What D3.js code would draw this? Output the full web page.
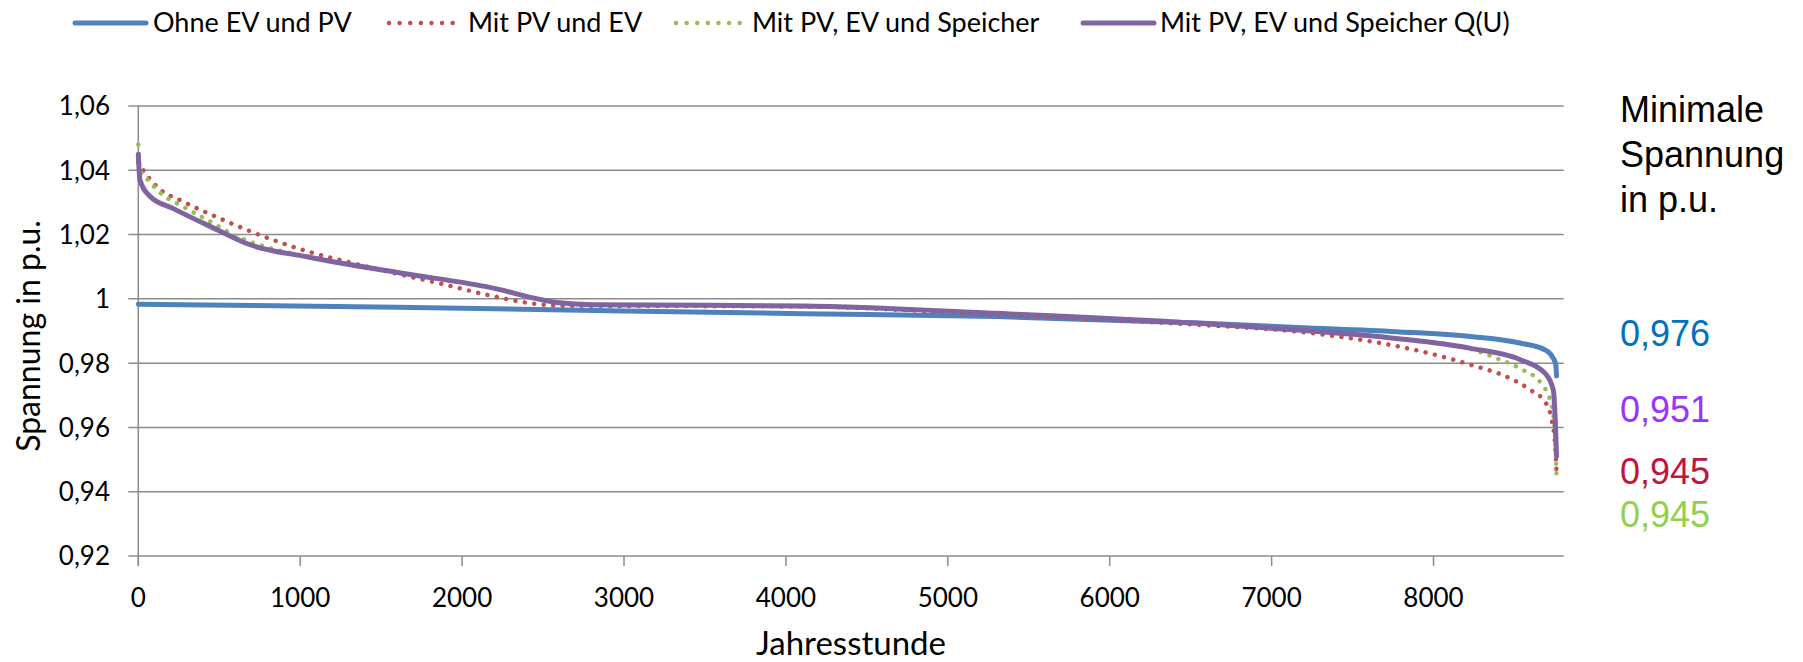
<!DOCTYPE html>
<html>
<head>
<meta charset="utf-8">
<script src="https://cdn.jsdelivr.net/npm/d3@7"></script>
<style>
  body { margin: 0; background: #fff; }
  svg text { fill: #000; }
</style>
</head>
<body>
<div id="chart"></div>
<script>
// Series names for the legend
var seriesNames = ["Ohne EV und PV", "Mit PV und EV", "Mit PV, EV und Speicher", "Mit PV, EV und Speicher Q(U)"];

// Jahresstunde (sorted load duration) and voltage in p.u.
var ohneHours = [0, 1600, 3000, 4100, 5300, 6550, 7160, 7770, 8230, 8540, 8690, 8740, 8755, 8760];
var ohneValues = [0.9983, 0.9974, 0.9962, 0.9954, 0.9945, 0.9925, 0.9911, 0.9898, 0.9883, 0.9862, 0.9841, 0.9815, 0.9795, 0.976];

var pvHours = [0, 10, 45, 115, 280, 500, 775, 1050, 1325, 1600, 1880, 2150, 2430, 2600, 4100, 5300, 6550, 7160, 7620, 7930, 8235, 8450, 8600, 8695, 8730, 8750, 8760];
var pvValues = [1.0425, 1.0416, 1.039, 1.0349, 1.0302, 1.0251, 1.0194, 1.0147, 1.0111, 1.0078, 1.0046, 1.0013, 0.9986, 0.9979, 0.9976, 0.995, 0.9919, 0.9898, 0.9867, 0.9836, 0.9794, 0.9758, 0.9716, 0.9675, 0.9623, 0.955, 0.946];

var speicherHours = [0, 10, 60, 140, 280, 445, 610, 800, 1050, 1600, 2150, 2600, 2800, 4100, 5300, 6550, 7160, 7770, 8230, 8390, 8540, 8665, 8726, 8750, 8760];
var speicherValues = [1.048, 1.040, 1.037, 1.0328, 1.0286, 1.024, 1.0194, 1.016, 1.0131, 1.0082, 1.0038, 0.9988, 0.9982, 0.9978, 0.9955, 0.9924, 0.9903, 0.9877, 0.9844, 0.9815, 0.9782, 0.9737, 0.9675, 0.958, 0.945];

var quHours = [0, 10, 70, 220, 500, 665, 1050, 1600, 2150, 2600, 2800, 4100, 5300, 6550, 7160, 7770, 8230, 8540, 8690, 8740, 8752, 8760];
var quValues = [1.045, 1.037, 1.032, 1.028, 1.0212, 1.0173, 1.013, 1.0082, 1.0038, 0.9988, 0.9982, 0.9978, 0.9955, 0.9924, 0.9903, 0.9877, 0.9846, 0.981, 0.9768, 0.9716, 0.962, 0.951];

// Axis ticks
var xTicks = [0, 1000, 2000, 3000, 4000, 5000, 6000, 7000, 8000];
var yTicks = [0.92, 0.94, 0.96, 0.98, 1.00, 1.02, 1.04, 1.06];

// Minimum voltage annotation
var minLabels = ["0,976", "0,951", "0,945", "0,945"];
var minColors = ["#0070C0", "#9933FF", "#C0143C", "#92D050"];

var width = 1803,
	height = 662;

var x = d3.scaleLinear().domain([0, 8804]).range([138.3, 1563.7]);
var y = d3.scaleLinear().domain([0.92, 1.06]).range([556, 106]);

var svg = d3.select("#chart")
	.append("svg")
	.attr("width", width)
	.attr("height", height)
	.style("font-family", "Lato, 'Open Sans', sans-serif");

// Gridlines
svg.append("g")
	.selectAll("line")
	.data(yTicks)
	.enter().append("line")
	.attr("x1", x.range()[0] - 10)
	.attr("x2", x.range()[1])
	.attr("y1", function(d) { return y(d); })
	.attr("y2", function(d) { return y(d); })
	.style("stroke", "#8c8c8c")
	.style("stroke-width", 1.5);

// y axis line
svg.append("line")
	.attr("x1", x(0)).attr("x2", x(0))
	.attr("y1", y(1.06)).attr("y2", y(0.92) + 10)
	.style("stroke", "#8c8c8c")
	.style("stroke-width", 1.5);

// x tick marks
svg.append("g")
	.selectAll("line")
	.data(xTicks)
	.enter().append("line")
	.attr("x1", function(d) { return x(d); })
	.attr("x2", function(d) { return x(d); })
	.attr("y1", y(0.92))
	.attr("y2", y(0.92) + 10)
	.style("stroke", "#8c8c8c")
	.style("stroke-width", 1.5);

// tick labels
svg.append("g")
	.selectAll("text")
	.data(yTicks)
	.enter().append("text")
	.attr("x", 110)
	.attr("y", function(d) { return y(d) + 9.4; })
	.attr("text-anchor", "end")
	.style("font-size", "26px")
	.text(function(d) { return d === 1 ? "1" : d3.format(".2f")(d).replace(".", ","); });

svg.append("g")
	.selectAll("text")
	.data(xTicks)
	.enter().append("text")
	.attr("x", function(d) { return x(d); })
	.attr("y", 606.5)
	.attr("text-anchor", "middle")
	.style("font-size", "26px")
	.text(function(d) { return d; });

// axis titles
svg.append("text")
	.attr("x", (x.range()[0] + x.range()[1]) / 2)
	.attr("y", 655)
	.attr("text-anchor", "middle")
	.style("font-size", "33px")
	.text("Jahresstunde");

svg.append("text")
	.attr("transform", "translate(40,336) rotate(-90)")
	.attr("text-anchor", "middle")
	.style("font-size", "32px")
	.text("Spannung in p.u.");

// series
var series = [
	{ name: seriesNames[0], hours: ohneHours, values: ohneValues, color: "#4F81BD", dotted: false },
	{ name: seriesNames[1], hours: pvHours, values: pvValues, color: "#C0504D", dotted: true },
	{ name: seriesNames[2], hours: speicherHours, values: speicherValues, color: "#9BBB59", dotted: true },
	{ name: seriesNames[3], hours: quHours, values: quValues, color: "#8064A2", dotted: false }
];

var line = d3.line()
	.x(function(d) { return x(d[0]); })
	.y(function(d) { return y(d[1]); })
	.curve(d3.curveMonotoneX);

function styleSeries(sel) {
	sel.style("fill", "none")
		.style("stroke", function(d) { return d.color; })
		.style("stroke-width", function(d) { return d.dotted ? 4.5 : 5; })
		.style("stroke-linecap", "round")
		.style("stroke-linejoin", "round")
		.style("stroke-dasharray", function(d) { return d.dotted ? "0.01 9.5" : null; });
}

svg.append("g")
	.selectAll("path")
	.data(series)
	.enter().append("path")
	.attr("d", function(d) { return line(d.hours.map(function(h, i) { return [h, d.values[i]]; })); })
	.call(styleSeries);

// legend
var legendX = [75, 387, 674, 1083];
var legend = svg.append("g")
	.selectAll("g")
	.data(series)
	.enter().append("g")
	.attr("transform", function(d, i) { return "translate(" + legendX[i] + ",23)"; });

legend.append("path")
	.attr("d", function(d) { return d.dotted ? "M2,0H66" : "M0,0H71"; })
	.call(styleSeries)
	.style("stroke-dasharray", function(d) { return d.dotted ? "0.01 10.6" : null; });

legend.append("text")
	.attr("x", function(d, i) { return i === 0 ? 78 : (i === 1 ? 81 : (i === 2 ? 78 : 77)); })
	.attr("y", 8.5)
	.style("font-size", "27px")
	.text(function(d) { return d.name; });

// Minimale Spannung annotation
var note = svg.append("g")
	.style("font-family", "'Liberation Sans', Arial, sans-serif")
	.style("font-size", "36px");

note.selectAll("text.head")
	.data(["Minimale", "Spannung", "in p.u."])
	.enter().append("text")
	.attr("class", "head")
	.attr("x", 1620)
	.attr("y", function(d, i) { return 122 + i * 45; })
	.text(function(d) { return d; });

var minY = [346, 422, 484, 527];
note.selectAll("text.min")
	.data(minLabels)
	.enter().append("text")
	.attr("class", "min")
	.attr("x", 1620)
	.attr("y", function(d, i) { return minY[i]; })
	.style("fill", function(d, i) { return minColors[i]; })
	.text(function(d) { return d; });
</script>
</body>
</html>
